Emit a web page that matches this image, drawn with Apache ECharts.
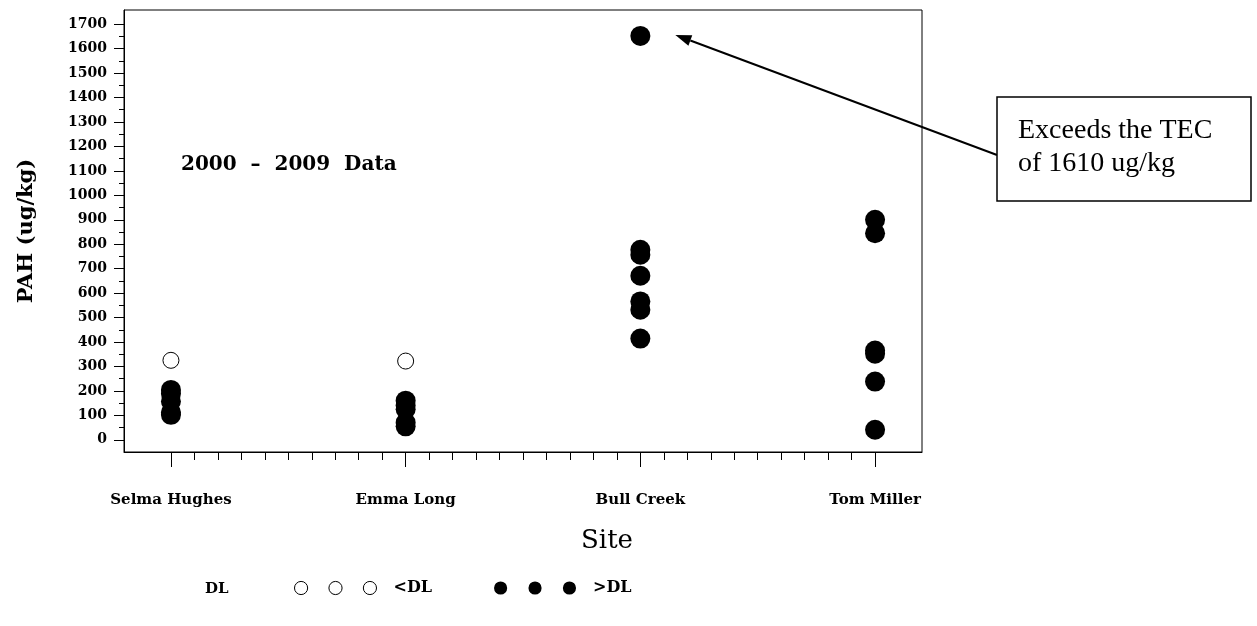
<!DOCTYPE html>
<html>
<head>
<meta charset="utf-8">
<script src="https://cdn.jsdelivr.net/npm/echarts@6/dist/echarts.min.js"></script>
<style>
  html, body { margin: 0; padding: 0; background: #fff; }
  #chart { width: 1257px; height: 626px; }
</style>
</head>
<body>
<div id="chart"></div>
<script>
// Sampling sites along the x axis (positions 1..4)
const sites = ['Selma Hughes', 'Emma Long', 'Bull Creek', 'Tom Miller'];

// PAH results (ug/kg) reported below the detection limit, per site
const belowDL = [
  [325],
  [322],
  [],
  []
];

// PAH results (ug/kg) above the detection limit, per site
const aboveDL = [
  [204, 188, 157, 112, 102],
  [160, 140, 125, 70, 55],
  [1652, 777, 757, 671, 566, 532, 414],
  [900, 845, 365, 352, 238, 41]
];

// Axis tick positions
const yMajorTicks = [0, 100, 200, 300, 400, 500, 600, 700, 800, 900, 1000, 1100, 1200, 1300, 1400, 1500, 1600, 1700];
const yMinorTicks = yMajorTicks.slice(0, -1).map(v => v + 50);
const xMajorTicks = [1, 2, 3, 4];
const xMinorTicks = [];
for (let s = 1; s < 4; s++) {
  for (let k = 1; k < 10; k++) xMinorTicks.push(+(s + k / 10).toFixed(1));
}

const TEC = 1610;
const annotationLines = ['Exceeds the TEC', 'of ' + TEC + ' ug/kg'];
const periodLabel = '2000  \u2013  2009  Data';

const toPoints = groups => groups.flatMap((vals, i) => vals.map(v => [i + 1, v]));

const serif = "'DejaVu Serif', 'Liberation Serif', serif";
const timesLike = "'Liberation Serif', 'DejaVu Serif', serif";

// Three-circle legend glyph, 82 x 14
function threeCircles() {
  const r = 6.5, cy = 7;
  return 'path://' + [7, 41, 75].map(cx =>
    `M${cx - r} ${cy}A${r} ${r} 0 1 0 ${cx + r} ${cy}A${r} ${r} 0 1 0 ${cx - r} ${cy}Z`
  ).join('');
}

const chart = echarts.init(document.getElementById('chart'), null, { renderer: 'canvas' });

const xRange = { min: 0.8, max: 4.2 };
const yRange = { min: -50, max: 1758 };

chart.setOption({
  animation: false,
  backgroundColor: '#fff',
  grid: {
    left: 124, right: 335, top: 10, bottom: 174,
    show: true, borderColor: '#000', borderWidth: 1, backgroundColor: 'transparent'
  },
  xAxis: [
    {
      type: 'value', position: 'bottom', ...xRange,
      axisLine: { show: true, onZero: false, lineStyle: { color: '#000', width: 1 } },
      axisTick: { show: true, customValues: xMajorTicks, length: 15, lineStyle: { color: '#000' } },
      axisLabel: {
        customValues: xMajorTicks, margin: 41,
        formatter: v => sites[Math.round(v) - 1] || '',
        color: '#000', fontFamily: serif, fontWeight: 'bold', fontSize: 15
      },
      splitLine: { show: false }
    },
    {
      type: 'value', position: 'bottom', ...xRange,
      axisLine: { show: false, onZero: false },
      axisTick: { show: true, customValues: xMinorTicks, length: 8, lineStyle: { color: '#000' } },
      axisLabel: { show: false },
      splitLine: { show: false }
    }
  ],
  yAxis: [
    {
      type: 'value', position: 'left', ...yRange,
      axisLine: { show: true, onZero: false, lineStyle: { color: '#000', width: 1 } },
      axisTick: { show: true, customValues: yMajorTicks, length: 10, lineStyle: { color: '#000' } },
      axisLabel: {
        customValues: yMajorTicks, margin: 17,
        formatter: v => String(v),
        color: '#000', fontFamily: serif, fontWeight: 'bold', fontSize: 14
      },
      splitLine: { show: false }
    },
    {
      type: 'value', position: 'left', ...yRange,
      axisLine: { show: false, onZero: false },
      axisTick: { show: true, customValues: yMinorTicks, length: 5, lineStyle: { color: '#000' } },
      axisLabel: { show: false },
      splitLine: { show: false }
    }
  ],
  legend: {
    left: 289, top: 575, orient: 'horizontal',
    itemWidth: 82, itemHeight: 14, itemGap: 62,
    selectedMode: false,
    textStyle: { color: '#000', fontFamily: serif, fontWeight: 'bold', fontSize: 16, padding: [0, 0, 0, 12] },
    data: [
      { name: '<DL', icon: threeCircles(), itemStyle: { color: '#fff', borderColor: '#000', borderWidth: 1, opacity: 1 } },
      { name: '>DL', icon: threeCircles(), itemStyle: { color: '#000', borderWidth: 0, opacity: 1 } }
    ]
  },
  series: [
    {
      name: '<DL', type: 'scatter', xAxisIndex: 0, yAxisIndex: 0,
      symbol: 'circle', symbolSize: 16,
      itemStyle: { color: '#fff', borderColor: '#000', borderWidth: 1, opacity: 1 },
      data: toPoints(belowDL)
    },
    {
      name: '>DL', type: 'scatter', xAxisIndex: 0, yAxisIndex: 0,
      symbol: 'circle', symbolSize: 20,
      itemStyle: { color: '#000', opacity: 1 },
      data: toPoints(aboveDL)
    }
  ]
});

// Annotation: arrow from the callout box to the highest Bull Creek result
const peakIdx = aboveDL[2].indexOf(Math.max(...aboveDL[2]));
const peak = chart.convertToPixel({ xAxisIndex: 0, yAxisIndex: 0 }, [3, aboveDL[2][peakIdx]]);
const tip = [peak[0] + 35, peak[1] - 1];
const tail = [997, 155];
const ang = Math.atan2(tail[1] - tip[1], tail[0] - tip[0]);
const headLen = 16, headHalf = 5.5;
const base = [tip[0] + headLen * Math.cos(ang), tip[1] + headLen * Math.sin(ang)];
const nx = -Math.sin(ang), ny = Math.cos(ang);

chart.setOption({
  graphic: [
    {
      type: 'line', silent: true,
      shape: { x1: tail[0], y1: tail[1], x2: base[0], y2: base[1] },
      style: { stroke: '#000', lineWidth: 2 }
    },
    {
      type: 'polygon', silent: true,
      shape: { points: [tip, [base[0] + nx * headHalf, base[1] + ny * headHalf], [base[0] - nx * headHalf, base[1] - ny * headHalf]] },
      style: { fill: '#000' }
    },
    {
      type: 'rect', silent: true,
      shape: { x: 997, y: 97, width: 254, height: 104 },
      style: { fill: '#fff', stroke: '#000', lineWidth: 1.5 }
    },
    {
      type: 'text', silent: true, x: 1018, y: 131,
      style: { text: annotationLines[0], fill: '#000', font: '28px ' + timesLike, verticalAlign: 'middle' }
    },
    {
      type: 'text', silent: true, x: 1018, y: 164,
      style: { text: annotationLines[1], fill: '#000', font: '28px ' + timesLike, verticalAlign: 'middle' }
    },
    {
      type: 'text', silent: true, x: 181, y: 165,
      style: { text: periodLabel, fill: '#000', font: 'bold 20px ' + serif, verticalAlign: 'middle' }
    },
    {
      type: 'text', silent: true, x: 607, y: 541,
      style: { text: 'Site', fill: '#000', font: '26px ' + serif, align: 'center', verticalAlign: 'middle' }
    },
    {
      type: 'text', silent: true, x: 27, y: 231, rotation: Math.PI / 2,
      style: { text: 'PAH (ug/kg)', fill: '#000', font: 'bold 21px ' + serif, align: 'center', verticalAlign: 'middle' }
    },
    {
      type: 'text', silent: true, x: 205, y: 589,
      style: { text: 'DL', fill: '#000', font: 'bold 15px ' + serif, verticalAlign: 'middle' }
    }
  ]
});
</script>
</body>
</html>
